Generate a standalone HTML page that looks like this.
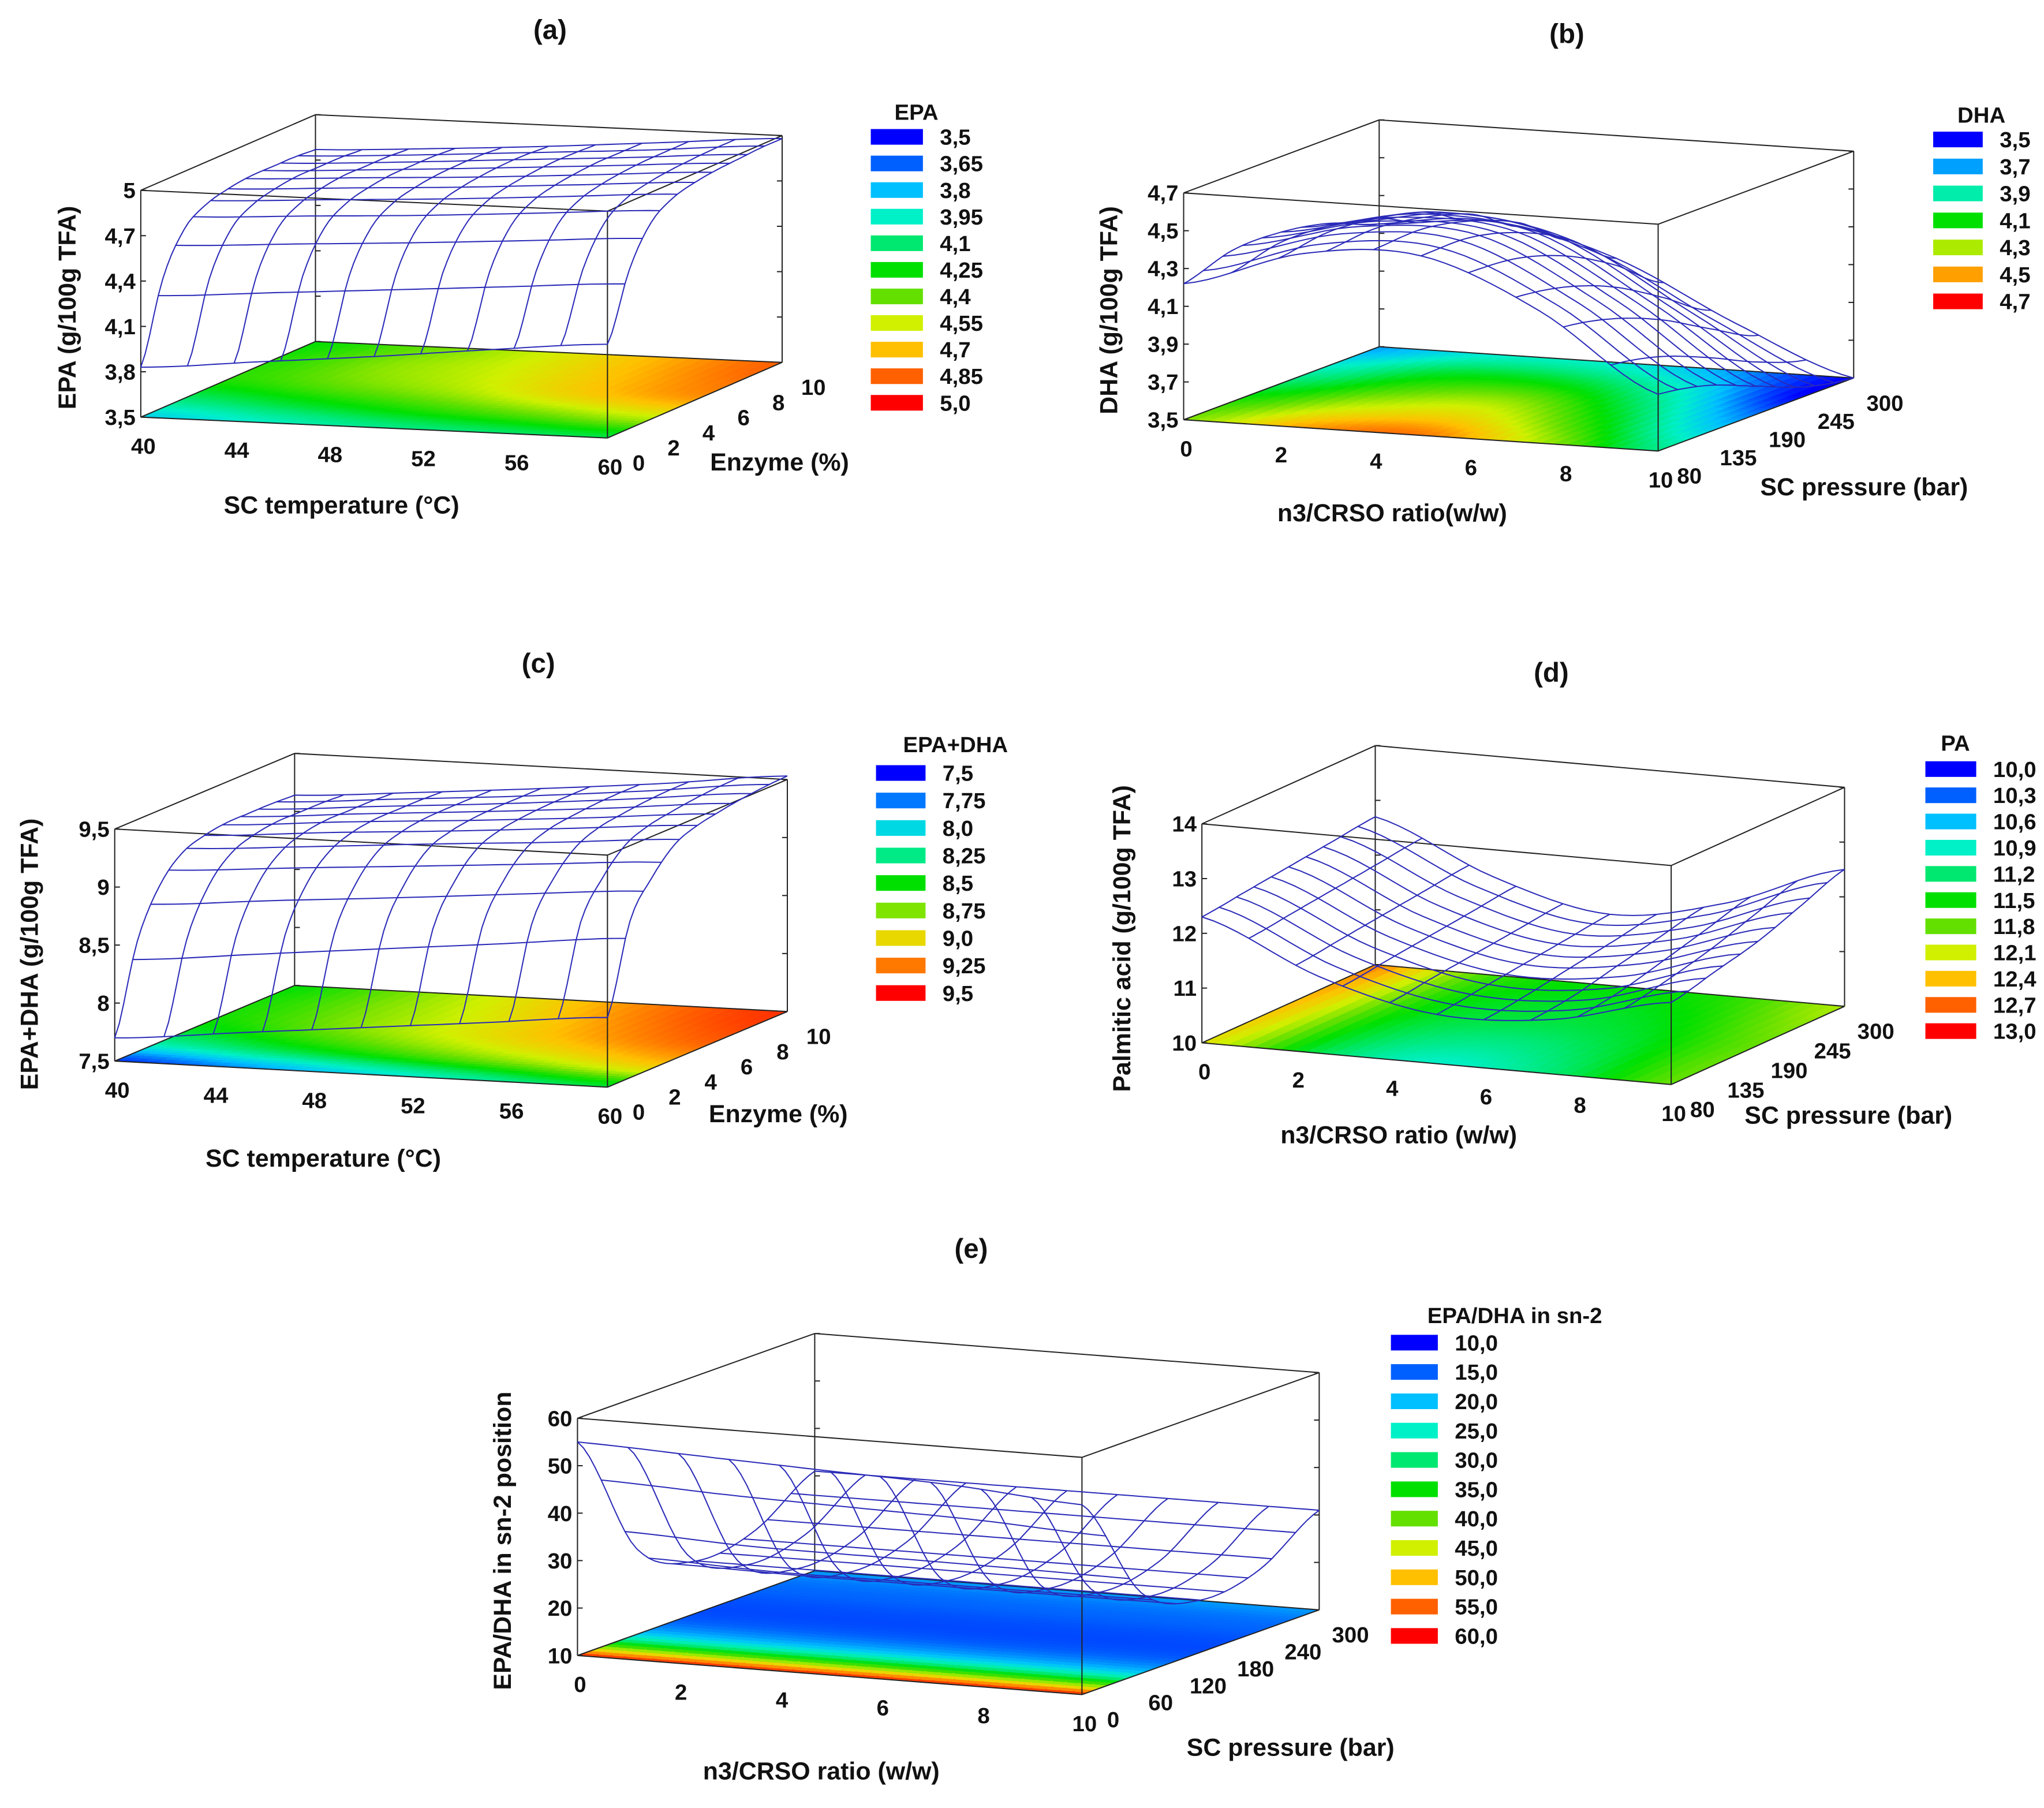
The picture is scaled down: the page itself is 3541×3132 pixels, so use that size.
<!DOCTYPE html>
<html><head><meta charset="utf-8"><style>
html,body{margin:0;padding:0;background:#fff}
svg{display:block}
text{font-family:"Liberation Sans",Arial,sans-serif;font-weight:bold;fill:#111}
</style></head><body>
<svg id="fig" xmlns="http://www.w3.org/2000/svg" width="3541" height="3132" viewBox="0 0 1568 1387" preserveAspectRatio="none"></svg>
<script>
// ---- chart data ----
const aMesh=[[3.83,3.9,3.97,4.05,4.12],[4.35,4.4,4.45,4.5,4.55],[4.62,4.66,4.7,4.75,4.8],[4.72,4.76,4.8,4.85,4.9],[4.76,4.8,4.84,4.89,4.94],[4.78,4.82,4.86,4.91,4.96],[4.78,4.82,4.87,4.92,4.97],[4.78,4.82,4.87,4.92,4.98],[4.77,4.81,4.86,4.92,4.98]];
const aFloor=[[3.85,3.95,4.05,4.1,4.15],[4.1,4.2,4.3,4.4,4.5],[4.3,4.4,4.5,4.65,4.75],[4.3,4.45,4.55,4.7,4.82],[4.25,4.4,4.55,4.72,4.85]];
const bMesh=[[4.22,4.42,4.45,4.2,3.8],[4.3,4.45,4.45,4.15,3.75],[4.3,4.42,4.38,4.05,3.65],[4.25,4.35,4.25,3.9,3.55],[4.15,4.2,4.05,3.75,3.5]];
const bFloor=[[4.25,4.5,4.55,4.3,3.95],[4.15,4.35,4.4,4.15,3.8],[4.0,4.2,4.25,4.0,3.65],[3.85,4.05,4.05,3.85,3.5],[3.7,3.85,3.85,3.7,3.5]];
const cMesh=[[7.7,7.8,7.9,8.0,8.1],[8.45,8.55,8.65,8.75,8.85],[8.85,8.93,9.0,9.08,9.15],[9.05,9.12,9.2,9.27,9.35],[9.12,9.2,9.27,9.35,9.43],[9.15,9.23,9.3,9.38,9.47],[9.15,9.23,9.31,9.4,9.5],[9.15,9.23,9.31,9.41,9.52],[9.14,9.22,9.31,9.41,9.53]];
const cFloor=[[7.6,7.8,8.0,8.2,8.4],[8.2,8.4,8.6,8.8,9.0],[8.5,8.7,8.9,9.1,9.25],[8.55,8.75,8.95,9.2,9.35],[8.5,8.75,9.0,9.25,9.4]];
const dMesh=[[12.3,11.4,10.9,11.0,11.5],[12.4,11.5,11.0,11.1,11.7],[12.5,11.6,11.1,11.3,11.9],[12.6,11.7,11.2,11.5,12.2],[12.7,11.8,11.3,11.7,12.5]];
const dFloor=[[12.2,11.3,10.9,11.2,11.8],[12.3,11.4,11.1,11.3,11.8],[12.4,11.5,11.3,11.4,11.8],[12.5,11.6,11.4,11.5,11.9],[12.6,11.7,11.5,11.6,12.0]];
const eMesh=[[55,54,53,52,50],[28,27,27,27,27],[21,21,21,21,21],[23,23,23,23,23],[31,31,31,31,31]];
const eFloor=[[58,58,58,58,58],[38,38,38,38,38],[22,22,22,22,22],[16,16,16,16,16],[14,14,14,14,14],[14,14,14,14,14],[15,15,15,15,15],[16,16,16,16,16],[18,18,18,18,18]];
const aXT=["40","44","48","52","56","60"], aYT=["0","2","4","6","8","10"], aZT=["3,5","3,8","4,1","4,4","4,7","5"], aZV=[3.5,3.8,4.1,4.4,4.7,5.0];
const bXT=["0","2","4","6","8","10"], bYT=["80","135","190","245","300"], bZT=["3,5","3,7","3,9","4,1","4,3","4,5","4,7"], bZV=[3.5,3.7,3.9,4.1,4.3,4.5,4.7];
const cXT=["40","44","48","52","56","60"], cYT=["0","2","4","6","8","10"], cZT=["7,5","8","8,5","9","9,5"], cZV=[7.5,8,8.5,9,9.5];
const dXT=["0","2","4","6","8","10"], dYT=["80","135","190","245","300"], dZT=["10","11","12","13","14"], dZV=[10,11,12,13,14];
const eXT=["0","2","4","6","8","10"], eYT=["0","60","120","180","240","300"], eZT=["10","20","30","40","50","60"], eZV=[10,20,30,40,50,60];
const aLeg=["3,5","3,65","3,8","3,95","4,1","4,25","4,4","4,55","4,7","4,85","5,0"];
const bLeg=["3,5","3,7","3,9","4,1","4,3","4,5","4,7"];
const cLeg=["7,5","7,75","8,0","8,25","8,5","8,75","9,0","9,25","9,5"];
const dLeg=["10,0","10,3","10,6","10,9","11,2","11,5","11,8","12,1","12,4","12,7","13,0"];
const eLeg=["10,0","15,0","20,0","25,0","30,0","35,0","40,0","45,0","50,0","55,0","60,0"];

const NS="http://www.w3.org/2000/svg", svg=document.getElementById('fig');
function mk(tag,attrs,parent,txt){const e=document.createElementNS(NS,tag);for(const k in attrs)e.setAttribute(k,attrs[k]);if(txt!==undefined)e.textContent=txt;(parent||svg).appendChild(e);return e;}
const stops=[[0,[0,0,255]],[0.1,[0,96,255]],[0.2,[0,192,255]],[0.3,[0,240,200]],[0.4,[0,232,112]],[0.5,[0,224,0]],[0.6,[100,224,0]],[0.7,[208,240,0]],[0.8,[255,192,0]],[0.9,[255,96,0]],[1,[255,0,0]]];
function jet(t){t=Math.max(0,Math.min(1,t));for(let i=1;i<stops.length;i++){if(t<=stops[i][0]){const a=stops[i-1],b=stops[i],f=(t-a[0])/(b[0]-a[0]);return 'rgb('+a[1].map((c,j)=>Math.round(c+(b[1][j]-c)*f)).join(',')+')';}}return 'rgb(255,0,0)';}
function cr(arr,t){const n=arr.length;t=Math.max(0,Math.min(n-1,t));let i=Math.min(Math.floor(t),n-2);const f=t-i;const p0=arr[Math.max(0,i-1)],p1=arr[i],p2=arr[i+1],p3=arr[Math.min(n-1,i+2)];
return 0.5*((2*p1)+(-p0+p2)*f+(2*p0-5*p1+4*p2-p3)*f*f+(-p0+3*p1-3*p2+p3)*f*f*f);}
function grid(g,u,v){const rows=g.length,cols=g[0].length;const col=g.map(r=>cr(r,u*(cols-1)));return cr(col,v*(rows-1));}

function panel(P){
  const G=mk('g',{},svg);
  const pr=(u,v,w)=>[P.O[0]+u*P.X[0]+v*P.Y[0]+w*P.Z[0],P.O[1]+u*P.X[1]+v*P.Y[1]+w*P.Z[1]];
  const wz=z=>(z-P.zmin)/(P.zmax-P.zmin);
  const line=(a,b,nm)=>{const l=mk('line',{x1:a[0],y1:a[1],x2:b[0],y2:b[1],stroke:'#222','stroke-width':0.9},G);};
  line(pr(0,1,0),pr(0,1,1),'box-edge');line(pr(0,1,1),pr(1,1,1),'box-edge');line(pr(0,0,1),pr(0,1,1),'box-edge');
  line(pr(1,1,0),pr(1,1,1),'box-edge');line(pr(1,0,1),pr(1,1,1),'box-edge');line(pr(0,0,1),pr(1,0,1),'box-edge');
  P.zv.forEach(z=>{const w=wz(z);const a=pr(0,1,w),b=pr(1,1,w);line(a,[a[0]+4,a[1]],'tick');line(b,[b[0]-4,b[1]],'tick');});
  const fg=mk('g',{},G);
  const N=36;
  for(let i=0;i<N;i++)for(let j=0;j<N;j++){const u0=i/N,u1=(i+1)/N,v0=j/N,v1=(j+1)/N;
    const val=grid(P.floor,(u0+u1)/2,(v0+v1)/2);const c=jet((val-P.lmin)/(P.lmax-P.lmin));
    const pts=[pr(u0,v0,0),pr(u1,v0,0),pr(u1,v1,0),pr(u0,v1,0)].map(p=>p.join(',')).join(' ');
    const q=mk('polygon',{points:pts,fill:c,stroke:c,'stroke-width':0.6},fg);}
  line(pr(0,0,0),pr(0,0,1),'box-edge');line(pr(1,0,0),pr(1,0,1),'box-edge');line(pr(0,0,0),pr(1,0,0),'x-axis-line');line(pr(1,0,0),pr(1,1,0),'y-axis-line');line(pr(0,0,0),pr(0,1,0),'box-edge');line(pr(0,1,0),pr(1,1,0),'box-edge');
  const mg=mk('g',{fill:'none',stroke:'#2a2ab8','stroke-width':0.9},G);
  const L=11,S=40;
  for(let k=0;k<L;k++){const t=k/(L-1);let d1='',d2='';
    for(let s=0;s<=S;s++){const r=s/S;const p=pr(t,r,wz(grid(P.mesh,t,r)));d1+=(s?'L':'M')+p[0].toFixed(1)+','+p[1].toFixed(1);
      const q=pr(r,t,wz(grid(P.mesh,r,t)));d2+=(s?'L':'M')+q[0].toFixed(1)+','+q[1].toFixed(1);}
    const a=mk('path',{d:d1},mg);
    const b=mk('path',{d:d2},mg);}
  P.xt.forEach((s,i)=>{const p=pr(i/(P.xt.length-1),0,0);const t=mk('text',{x:p[0]+2,y:p[1]+28,'font-size':17,'text-anchor':'middle'},G,s);});
  P.yt.forEach((s,i)=>{const p=pr(1,i/(P.yt.length-1),0);const t=mk('text',{x:p[0]+24,y:p[1]+25,'font-size':17,'text-anchor':'middle'},G,s);});
  P.zt.forEach((s,i)=>{const p=pr(0,0,wz(P.zv[i]));const t=mk('text',{x:p[0]-4,y:p[1]+6,'font-size':17,'text-anchor':'end'},G,s);
    line(p,[p[0]+4,p[1]],'tick');});
  let t=mk('text',{x:P.xl[0],y:P.xl[1],'font-size':19,'text-anchor':'middle'},G,P.xlab);
  t=mk('text',{x:P.yl[0],y:P.yl[1],'font-size':19,'text-anchor':'middle'},G,P.ylab);
  t=mk('text',{x:P.zl[0],y:P.zl[1],'font-size':19,'text-anchor':'middle',transform:`rotate(-90 ${P.zl[0]} ${P.zl[1]})`},G,P.zlab);
  t=mk('text',{x:P.tl[0],y:P.tl[1],'font-size':21,'text-anchor':'middle'},G,P.tag);
  const lg=mk('g',{},G);
  t=mk('text',{x:P.lt[0],y:P.lt[1],'font-size':17,'text-anchor':'middle'},lg,P.ltitle);
  P.leg.forEach((s,i)=>{const y=P.ly0+i*P.lstep;const c=jet(i/(P.leg.length-1));
    const r=mk('rect',{x:P.lx,y:y-6,width:P.lw,height:12,fill:c},lg);
    const tx=mk('text',{x:P.lx+P.lw+13,y:y+6,'font-size':17},lg,s);});
}

panel({name:'panel-a-epa',O:[108,320],X:[358,16],Y:[134,-58],Z:[0,-174],zmin:3.5,zmax:5.0,lmin:3.5,lmax:5.0,mesh:aMesh,floor:aFloor,
 xt:aXT,yt:aYT,zt:aZT,zv:aZV,xlab:'SC temperature (°C)',xl:[262,394],ylab:'Enzyme (%)',yl:[598,361],zlab:'EPA (g/100g TFA)',zl:[58,236],tag:'(a)',tl:[422,30],
 ltitle:'EPA',lt:[703,92],leg:aLeg,lx:668,lw:40,ly0:105,lstep:20.4});
panel({name:'panel-b-dha',O:[908,322],X:[364,24],Y:[150,-56],Z:[0,-174],zmin:3.5,zmax:4.7,lmin:3.5,lmax:4.7,mesh:bMesh,floor:bFloor,
 xt:bXT,yt:bYT,zt:bZT,zv:bZV,xlab:'n3/CRSO ratio(w/w)',xl:[1068,400],ylab:'SC pressure (bar)',yl:[1430,380],zlab:'DHA (g/100g TFA)',zl:[857,238],tag:'(b)',tl:[1202,33],
 ltitle:'DHA',lt:[1520,94],leg:bLeg,lx:1483,lw:38,ly0:107,lstep:20.7});
panel({name:'panel-c-epa-dha',O:[88,814],X:[378,20],Y:[138,-58],Z:[0,-178],zmin:7.5,zmax:9.5,lmin:7.5,lmax:9.5,mesh:cMesh,floor:cFloor,
 xt:cXT,yt:cYT,zt:cZT,zv:cZV,xlab:'SC temperature (°C)',xl:[248,895],ylab:'Enzyme (%)',yl:[597,861],zlab:'EPA+DHA (g/100g TFA)',zl:[29,732],tag:'(c)',tl:[413,516],
 ltitle:'EPA+DHA',lt:[733,577],leg:cLeg,lx:672,lw:38,ly0:593,lstep:21.1});
panel({name:'panel-d-pa',O:[922,800],X:[360,32],Y:[133,-60],Z:[0,-168],zmin:10,zmax:14,lmin:10,lmax:13,mesh:dMesh,floor:dFloor,
 xt:dXT,yt:dYT,zt:dZT,zv:dZV,xlab:'n3/CRSO ratio (w/w)',xl:[1073,877],ylab:'SC pressure (bar)',yl:[1418,862],zlab:'Palmitic acid (g/100g TFA)',zl:[867,720],tag:'(d)',tl:[1190,523],
 ltitle:'PA',lt:[1500,576],leg:dLeg,lx:1477,lw:39,ly0:590,lstep:20.1});
panel({name:'panel-e-sn2',O:[443,1270],X:[387,30],Y:[182,-65],Z:[0,-182],zmin:10,zmax:60,lmin:10,lmax:60,mesh:eMesh,floor:eFloor,
 xt:eXT,yt:eYT,zt:eZT,zv:eZV,xlab:'n3/CRSO ratio (w/w)',xl:[630,1365],ylab:'SC pressure (bar)',yl:[990,1347],zlab:'EPA/DHA in sn-2 position',zl:[392,1182],tag:'(e)',tl:[745,965],
 ltitle:'EPA/DHA in sn-2',lt:[1162,1015],leg:eLeg,lx:1067,lw:36,ly0:1030,lstep:22.5});
</script>
</body></html>
